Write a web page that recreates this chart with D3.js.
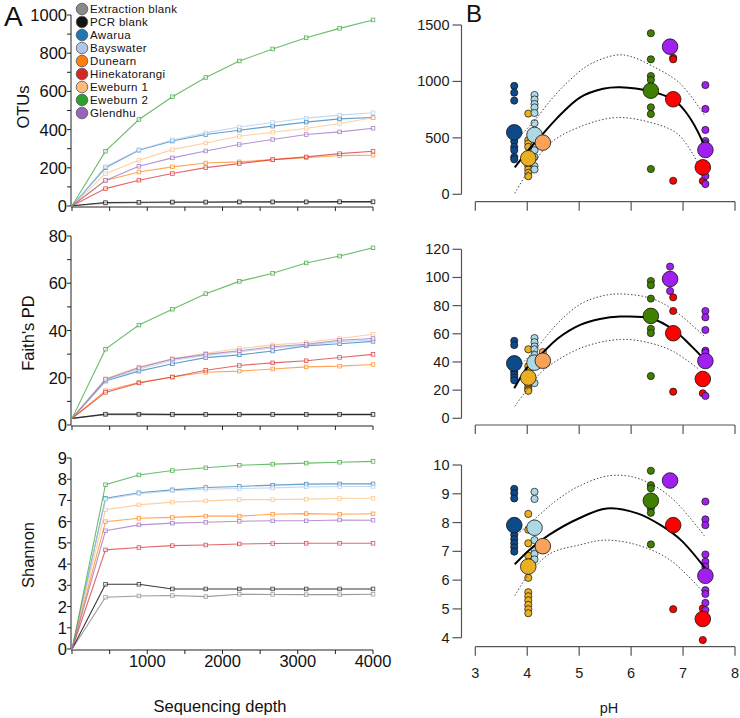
<!DOCTYPE html>
<html>
<head>
<meta charset="utf-8">
<script src="https://cdn.jsdelivr.net/npm/d3@7"></script>
<style>
  body { margin: 0; background: #fff; }
  svg { font-family: "Liberation Sans", Arial, sans-serif; }
</style>
</head>
<body>
<svg id="chart" width="740" height="718"></svg>
<script>
// ---- panel A : rarefaction curves ----
const depths = [1, 445, 889, 1334, 1778, 2223, 2667, 3112, 3556, 4000];
const sites = ["Extraction blank", "PCR blank", "Awarua", "Bayswater", "Dunearn",
               "Hinekatorangi", "Eweburn 1", "Eweburn 2", "Glendhu"];
const siteColors = ["#8a8a8a", "#141414", "#1f77b4", "#aec7e8", "#ff7f0e",
                    "#d62728", "#ffbb78", "#2ca02c", "#9467bd"];

const otus = [
  [1, 15, 17, 18, 18, 19, 19, 19, 20, 20],
  [1, 18, 20, 21, 21, 22, 22, 22, 23, 23],
  [1, 200, 292, 340, 374, 397, 418, 439, 456, 463],
  [1, 206, 295, 346, 383, 414, 437, 460, 476, 488],
  [1, 134, 178, 205, 225, 231, 243, 253, 264, 266],
  [1, 91, 135, 170, 201, 222, 243, 257, 274, 287],
  [1, 169, 240, 295, 330, 365, 386, 406, 432, 462],
  [1, 287, 453, 572, 673, 759, 822, 881, 930, 974],
  [1, 134, 208, 252, 288, 322, 348, 374, 388, 407]
];
const faith = [
  [2.8, 4.4, 4.4, 4.3, 4.3, 4.3, 4.3, 4.3, 4.3, 4.3],
  [2.8, 4.6, 4.6, 4.5, 4.5, 4.5, 4.5, 4.5, 4.5, 4.5],
  [2.8, 18.6, 22.8, 25.9, 28.5, 29.7, 31.3, 33.5, 34.4, 35.4],
  [2.8, 19.0, 23.6, 27.3, 29.4, 30.9, 32.6, 33.8, 35.3, 36.0],
  [2.8, 14.5, 18.0, 20.3, 22.3, 22.8, 23.7, 24.6, 24.9, 25.6],
  [2.8, 13.8, 17.8, 20.3, 23.2, 25.2, 26.3, 27.2, 28.6, 29.9],
  [2.8, 19.6, 24.5, 28.0, 30.4, 32.4, 33.9, 34.9, 36.6, 38.4],
  [2.8, 32.1, 42.3, 49.0, 55.6, 60.8, 64.2, 68.6, 71.5, 75.0],
  [2.8, 19.3, 24.2, 27.9, 29.9, 31.4, 33.1, 34.2, 35.9, 36.6]
];
const shannon = [
  [0, 2.44, 2.5, 2.52, 2.47, 2.58, 2.57, 2.56, 2.56, 2.58],
  [0, 3.05, 3.05, 2.83, 2.83, 2.83, 2.83, 2.83, 2.83, 2.83],
  [0, 7.1, 7.36, 7.5, 7.61, 7.66, 7.72, 7.77, 7.78, 7.78],
  [0, 7.06, 7.32, 7.46, 7.53, 7.56, 7.59, 7.64, 7.66, 7.66],
  [0, 6.0, 6.16, 6.2, 6.26, 6.26, 6.35, 6.38, 6.35, 6.37],
  [0, 4.67, 4.78, 4.87, 4.9, 4.95, 4.97, 4.98, 4.98, 4.98],
  [0, 6.56, 6.79, 6.92, 6.98, 7.04, 7.04, 7.06, 7.09, 7.1],
  [0, 7.74, 8.2, 8.41, 8.54, 8.66, 8.71, 8.76, 8.8, 8.84],
  [0, 5.57, 5.85, 5.93, 5.97, 6.02, 6.04, 6.04, 6.08, 6.07]
];
const depthTicks = [1000, 2000, 3000, 4000];

// ---- panel B : diversity vs pH ----
const groupPH = [3.75, 4.02, 4.14, 4.30, 6.38, 6.75, 6.81, 7.38, 7.43];
const groupColors = ["#0d4a8a", "#ebb022", "#add8e6", "#f8a25a", "#3f8000",
                     "#a020f0", "#ff0000", "#ff0000", "#a020f0"];

const otuMean = [549, 319, 526, 458, 918, 1308, 842, 239, 393];
const faithMean = [39, 28.9, 39.5, 40.9, 72.7, 98.9, 60.4, 27.9, 40.7];
const shanMean = [7.91, 6.47, 7.82, 7.18, 8.76, 9.46, 7.91, 4.65, 6.15];

const otuSmall = [
  [960, 900, 830, 470, 420, 390, 330, 310],
  [715, 480, 450, 420, 250, 220, 190, 160],
  [880, 840, 800, 770, 720, 630, 440, 390, 330, 250, 220],
  [470],
  [1427, 1196, 1048, 1013, 771, 711, 224],
  [1300],
  [1210, 1196, 120],
  [118, 200],
  [968, 756, 570, 472, 446, 162, 91]
];
const faithSmall = [
  [55, 52, 33, 31, 29, 27],
  [49, 37, 34, 24, 22, 20.5, 19.5],
  [57, 54, 51, 49, 45, 25],
  [47],
  [97.5, 94.5, 85, 63.5, 60.5, 30],
  [107.7, 90.4],
  [85.9, 76.2, 18.9],
  [17.8],
  [76.2, 71.7, 62.7, 48, 46.6, 15.9]
];
const shanSmall = [
  [9.17, 9.02, 8.84, 7.57, 7.42, 7.28, 7.14, 6.99],
  [8.3, 7.75, 7.28, 6.85, 6.08, 5.58, 5.44, 5.3, 5.14, 4.99, 4.85],
  [9.07, 8.82, 7.39, 7.05, 6.91, 6.72],
  [],
  [9.8, 9.3, 9.19, 8.49, 8.34, 7.24],
  [],
  [4.99],
  [5.02, 3.92],
  [8.73, 8.11, 7.91, 6.89, 6.64, 6.47, 6.29, 5.65, 5.52, 5.21, 4.96]
];

// fitted curve : pH and fit / upper / lower
const otuFitPH = [3.76, 4.05, 4.31, 4.57, 5.02, 5.46, 5.79, 6.38, 6.82, 7.07, 7.36, 7.43];
const otuFit = [239, 407, 540, 673, 859, 935, 948, 912, 836, 718, 482, 390];
const otuUpPH = [3.76, 4.12, 4.5, 4.82, 5.2, 5.72, 6.0, 6.43, 6.94, 7.43];
const otuUp = [470, 643, 860, 1012, 1150, 1234, 1220, 1131, 983, 688];
const otuLoPH = [3.76, 4.0, 4.44, 5.02, 5.72, 6.43, 6.88, 7.2, 7.43];
const otuLo = [9, 190, 452, 599, 680, 629, 540, 348, 130];

const faithFitPH = [3.75, 4.0, 4.31, 4.6, 5.02, 5.4, 5.79, 6.38, 6.82, 7.17, 7.43];
const faithFit = [21.3, 36, 47, 57, 66.3, 70.5, 72.2, 71.0, 62.7, 50.9, 41];
const faithUpPH = [3.76, 4.25, 4.6, 5.02, 5.4, 5.77, 6.38, 6.82, 7.43];
const faithUp = [33, 53, 68, 81, 86.5, 88.3, 85.2, 76.9, 57.5];
const faithLoPH = [3.76, 3.99, 4.31, 5.02, 5.79, 6.38, 6.82, 7.3];
const faithLo = [8.5, 20, 34, 49.7, 56, 53.3, 47.3, 35];

const shanFitPH = [3.76, 4.04, 4.42, 5.0, 5.53, 6.12, 6.57, 6.96, 7.43];
const shanFit = [6.55, 7.05, 7.57, 8.15, 8.49, 8.32, 7.91, 7.39, 6.4];
const shanUpPH = [3.76, 4.19, 4.57, 5.0, 5.59, 6.12, 6.75, 7.43];
const shanUp = [7.5, 8.2, 8.78, 9.27, 9.63, 9.54, 8.9, 7.49];
const shanLoPH = [3.76, 4.04, 4.45, 5.0, 5.5, 6.12, 6.75, 7.41];
const shanLo = [5.46, 6.23, 6.93, 7.22, 7.39, 7.22, 6.7, 5.54];

const pHTicks = [3, 4, 5, 6, 7, 8];

const svg = d3.select("#chart");

// ================= panel A =================
const xA = d3.scaleLinear().domain([0, 4000]).range([72, 373]);
const axAx = 71;

const panelsA = [
  { data: otus, y: d3.scaleLinear().domain([0, 1000]).range([206, 15]),
    minor: 100, major: 200, max: 1000, label: "OTUs", lx: 29, ly: 107 },
  { data: faith, y: d3.scaleLinear().domain([0, 80]).range([425, 236]),
    minor: 10, major: 20, max: 80, label: "Faith's PD", lx: 34, ly: 333 },
  { data: shannon, y: d3.scaleLinear().domain([0, 9]).range([649, 458]),
    minor: 1, major: 1, max: 9, label: "Shannon", lx: 34, ly: 555 }
];

panelsA.forEach((p, pi) => {
  const g = svg.append("g");
  const y0 = p.y(0);
  // axes
  g.append("line").attr("x1", axAx).attr("x2", axAx)
    .attr("y1", p.y(p.max)).attr("y2", y0).attr("stroke", "#222");
  g.append("line").attr("x1", axAx).attr("x2", xA(4000))
    .attr("y1", y0 + 1).attr("y2", y0 + 1).attr("stroke", "#222");
  d3.range(0, p.max + 0.001, p.minor).forEach(v => {
    g.append("line").attr("x1", axAx - 4).attr("x2", axAx)
      .attr("y1", p.y(v)).attr("y2", p.y(v)).attr("stroke", "#222");
    if (Math.abs(v / p.major - Math.round(v / p.major)) < 1e-6) {
      g.append("text").attr("x", axAx - 4).attr("y", p.y(v) + 6)
        .attr("text-anchor", "end").attr("font-size", 16.5).attr("fill", "#111")
        .text(v);
    }
  });
  d3.range(0, 4001, 500).forEach(v => {
    g.append("line").attr("x1", xA(v)).attr("x2", xA(v))
      .attr("y1", y0 + 1).attr("y2", y0 + 5).attr("stroke", "#222");
  });
  if (pi === 2) {
    depthTicks.forEach(v => {
      g.append("text").attr("x", xA(v)).attr("y", y0 + 18)
        .attr("text-anchor", "middle").attr("font-size", 16.5).attr("fill", "#111")
        .text(v);
    });
  }
  g.append("text").attr("transform", `translate(${p.lx},${p.ly}) rotate(-90)`)
    .attr("text-anchor", "middle").attr("font-size", 16.5).attr("fill", "#111")
    .text(p.label);

  const line = d3.line().x((d, i) => xA(depths[i])).y(d => p.y(d));
  p.data.forEach((ser, si) => {
    g.append("path").attr("d", line(ser)).attr("fill", "none")
      .attr("stroke", siteColors[si]).attr("stroke-width", 1.1)
      .attr("stroke-opacity", si < 2 ? 0.85 : 0.7);
    g.selectAll(null).data(ser.slice(1)).enter().append("rect")
      .attr("x", (d, i) => xA(depths[i + 1]) - 1.8)
      .attr("y", d => p.y(d) - 1.8)
      .attr("width", 3.6).attr("height", 3.6)
      .attr("fill", "#fff").attr("fill-opacity", 0.6)
      .attr("stroke", siteColors[si]).attr("stroke-width", 0.8)
      .attr("stroke-opacity", 0.8);
  });
});

// legend
const leg = svg.append("g");
sites.forEach((s, i) => {
  const yy = 9 + i * 13;
  leg.append("circle").attr("cx", 82).attr("cy", yy).attr("r", 5.8)
    .attr("fill", siteColors[i]).attr("stroke", "#555").attr("stroke-width", 0.8);
  leg.append("text").attr("x", 90).attr("y", yy + 4)
    .attr("font-size", 11.5).attr("letter-spacing", 0.35).attr("fill", "#111").text(s);
});

svg.append("text").attr("x", 4).attr("y", 26).attr("font-size", 28)
  .attr("fill", "#111").text("A");
svg.append("text").attr("x", 220).attr("y", 712).attr("text-anchor", "middle")
  .attr("font-size", 16.5).attr("fill", "#111").text("Sequencing depth");

// ================= panel B =================
const xB = d3.scaleLinear().domain([3, 8]).range([475.3, 735]);
const axBx = 461.5;

const panelsB = [
  { y: d3.scaleLinear().domain([0, 1500]).range([194.3, 25]), ticks: [0, 500, 1000, 1500],
    xAxisY: 201.7, mean: otuMean, small: otuSmall,
    fit: [otuFitPH, otuFit], up: [otuUpPH, otuUp], lo: [otuLoPH, otuLo] },
  { y: d3.scaleLinear().domain([0, 120]).range([418.3, 249.3]), ticks: [0, 20, 40, 60, 80, 100, 120],
    xAxisY: 425, mean: faithMean, small: faithSmall,
    fit: [faithFitPH, faithFit], up: [faithUpPH, faithUp], lo: [faithLoPH, faithLo] },
  { y: d3.scaleLinear().domain([4, 10]).range([637.7, 465]), ticks: [4, 5, 6, 7, 8, 9, 10],
    xAxisY: 646.7, mean: shanMean, small: shanSmall,
    fit: [shanFitPH, shanFit], up: [shanUpPH, shanUp], lo: [shanLoPH, shanLo] }
];

panelsB.forEach((p, pi) => {
  const g = svg.append("g");
  const axCol = "#555";
  const t = p.ticks;
  g.append("line").attr("x1", axBx).attr("x2", axBx)
    .attr("y1", p.y(t[t.length - 1])).attr("y2", p.y(t[0]))
    .attr("stroke", axCol).attr("stroke-width", 1.2);
  t.forEach(v => {
    g.append("line").attr("x1", axBx - 9).attr("x2", axBx)
      .attr("y1", p.y(v)).attr("y2", p.y(v)).attr("stroke", axCol).attr("stroke-width", 1.2);
    g.append("text").attr("x", axBx - 12).attr("y", p.y(v) + 5)
      .attr("text-anchor", "end").attr("font-size", 14.5).attr("fill", "#1a1a1a").text(v);
  });
  g.append("line").attr("x1", xB(3)).attr("x2", xB(8))
    .attr("y1", p.xAxisY).attr("y2", p.xAxisY).attr("stroke", axCol).attr("stroke-width", 1.2);
  pHTicks.forEach(v => {
    g.append("line").attr("x1", xB(v)).attr("x2", xB(v))
      .attr("y1", p.xAxisY).attr("y2", p.xAxisY + 9).attr("stroke", axCol).attr("stroke-width", 1.2);
    if (pi === 2) {
      g.append("text").attr("x", xB(v)).attr("y", p.xAxisY + 31)
        .attr("text-anchor", "middle").attr("font-size", 14.5).attr("fill", "#1a1a1a").text(v);
    }
  });

  // small sample points
  p.small.forEach((vals, gi) => {
    g.selectAll(null).data(vals).enter().append("circle")
      .attr("cx", xB(groupPH[gi])).attr("cy", d => p.y(d)).attr("r", 3.6)
      .attr("fill", groupColors[gi]).attr("stroke", "#111").attr("stroke-width", 0.7);
  });

  const mk = arr => d3.line().curve(d3.curveCatmullRom.alpha(0.5))
    .x((d, i) => xB(arr[0][i])).y(d => p.y(d))(arr[1]);
  g.append("path").attr("d", mk(p.up)).attr("fill", "none")
    .attr("stroke", "#333").attr("stroke-width", 0.9).attr("stroke-dasharray", "1.5,2");
  g.append("path").attr("d", mk(p.lo)).attr("fill", "none")
    .attr("stroke", "#333").attr("stroke-width", 0.9).attr("stroke-dasharray", "1.5,2");
  g.append("path").attr("d", mk(p.fit)).attr("fill", "none")
    .attr("stroke", "#000").attr("stroke-width", 2);

  // group means
  g.selectAll(null).data(p.mean).enter().append("circle")
    .attr("cx", (d, i) => xB(groupPH[i])).attr("cy", d => p.y(d)).attr("r", 7.8)
    .attr("fill", (d, i) => groupColors[i]).attr("stroke", "#111").attr("stroke-width", 0.8);
});

svg.append("text").attr("x", 466).attr("y", 22).attr("font-size", 24)
  .attr("fill", "#111").text("B");
svg.append("text").attr("x", 609).attr("y", 713).attr("text-anchor", "middle")
  .attr("font-size", 14.5).attr("fill", "#1a1a1a").text("pH");
</script>
</body>
</html>
